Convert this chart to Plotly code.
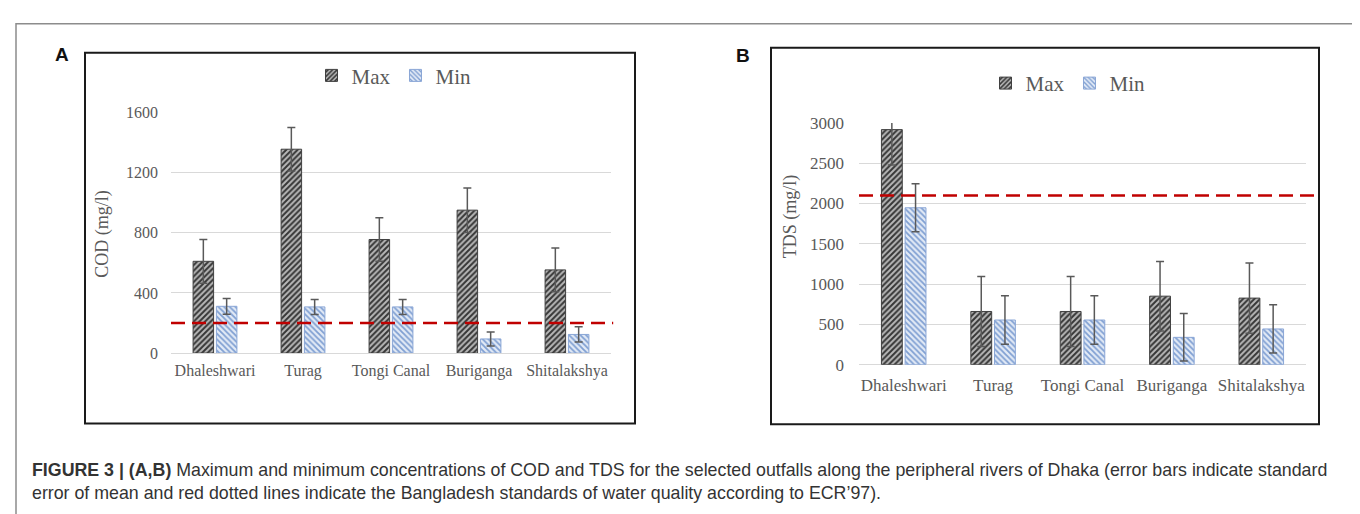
import plotly.graph_objects as go

W, H = 1360, 514

# ---------------- data ----------------
rivers = ["Dhaleshwari", "Turag", "Tongi Canal", "Buriganga", "Shitalakshya"]

cod_max = [610, 1355, 755, 950, 553]
cod_max_err = [145, 145, 145, 148, 145]
cod_min = [311, 307, 307, 94, 124]
cod_min_err = [52, 50, 50, 47, 51]
cod_standard = 200
cod_ticks = [0, 400, 800, 1200, 1600]

tds_max = [2917, 660, 660, 850, 826]
tds_max_err = [440, 435, 435, 431, 435]
tds_min = [1947, 554, 554, 339, 443]
tds_min_err = [299, 300, 300, 295, 299]
tds_standard = 2100
tds_ticks = [0, 500, 1000, 1500, 2000, 2500, 3000]

series_names = ["Max", "Min"]
caption_bold = "FIGURE 3 | (A,B)"
caption_line1 = (" Maximum and minimum concentrations of COD and TDS for the selected outfalls "
                 "along the peripheral rivers of Dhaka (error bars indicate standard")
caption_line2 = ("error of mean and red dotted lines indicate the Bangladesh standards of water "
                 "quality according to ECR\u201997).")


def px(p):
    return p / W


def py(p):
    return 1 - p / H


SERIF = "Liberation Serif, Times New Roman, serif"
SANS = "Liberation Sans, Arial, sans-serif"
TXT = "#595959"

max_marker = dict(color="#b0b0b0",
                  pattern=dict(shape="/", fgcolor="#363636", bgcolor="#b8b8b8",
                               size=4, solidity=0.5, fillmode="replace"),
                  line=dict(color="#404040", width=1))
min_marker = dict(color="#d6e2f3",
                  pattern=dict(shape="\\", fgcolor="#7f9fd2", bgcolor="#e2eaf6",
                               size=4, solidity=0.45, fillmode="replace"),
                  line=dict(color="#8aa6d6", width=1))
err_style = dict(type="data", color="#595959", thickness=1.5, width=4, visible=True)

fig = go.Figure()

# Panel A
fig.add_trace(go.Bar(x=rivers, y=cod_max, name=series_names[0], marker=max_marker,
                     error_y=dict(array=cod_max_err, **err_style),
                     xaxis="x", yaxis="y", offsetgroup="a_max", legend="legend"))
fig.add_trace(go.Bar(x=rivers, y=cod_min, name=series_names[1], marker=min_marker,
                     error_y=dict(array=cod_min_err, **err_style),
                     xaxis="x", yaxis="y", offsetgroup="a_min", legend="legend"))
# Panel B
fig.add_trace(go.Bar(x=rivers, y=tds_max, name=series_names[0], marker=max_marker,
                     error_y=dict(array=tds_max_err, **err_style),
                     xaxis="x2", yaxis="y2", offsetgroup="b_max", legend="legend2"))
fig.add_trace(go.Bar(x=rivers, y=tds_min, name=series_names[1], marker=min_marker,
                     error_y=dict(array=tds_min_err, **err_style),
                     xaxis="x2", yaxis="y2", offsetgroup="b_min", legend="legend2"))

xax_common = dict(type="category", showgrid=False, showline=False, zeroline=False,
                  ticks="", fixedrange=True)
yax_common = dict(showgrid=True, gridcolor="#d9d9d9", gridwidth=1, zeroline=True,
                  zerolinecolor="#d9d9d9", zerolinewidth=1, showline=False, ticks="",
                  fixedrange=True)

shapes = [
    # outer frame
    dict(type="rect", xref="paper", yref="paper", x0=px(8), x1=px(1356), y0=py(520), y1=py(7),
         line=dict(color="#8c8c8c", width=1.5), layer="below"),
    # panel boxes
    dict(type="rect", xref="paper", yref="paper", x0=px(77), x1=px(627), y0=py(422), y1=py(37),
         line=dict(color="#1a1a1a", width=2), layer="below"),
    dict(type="rect", xref="paper", yref="paper", x0=px(763), x1=px(1311), y0=py(423), y1=py(32),
         line=dict(color="#1a1a1a", width=2), layer="below"),
    # standards lines
    dict(type="line", xref="x domain", yref="y", x0=0, x1=1.005, y0=cod_standard, y1=cod_standard,
         line=dict(color="#c00000", width=2.5, dash="14px,7px")),
    dict(type="line", xref="x2 domain", yref="y2", x0=0, x1=1.022, y0=tds_standard, y1=tds_standard,
         line=dict(color="#c00000", width=2.5, dash="14px,7px")),
]

annotations = [
    dict(text="<b>A</b>", x=px(54), y=py(39), xref="paper", yref="paper", showarrow=False,
         font=dict(family=SANS, size=19, color="#111111"), xanchor="center", yanchor="middle"),
    dict(text="<b>B</b>", x=px(735), y=py(40), xref="paper", yref="paper", showarrow=False,
         font=dict(family=SANS, size=19, color="#111111"), xanchor="center", yanchor="middle"),
    dict(text="COD (mg/l)", x=px(95), y=py(225), xref="paper", yref="paper", showarrow=False,
         textangle=-90, font=dict(family=SERIF, size=18, color=TXT),
         xanchor="center", yanchor="middle"),
    dict(text="TDS (mg/l)", x=px(782), y=py(207), xref="paper", yref="paper", showarrow=False,
         textangle=-90, font=dict(family=SERIF, size=18, color=TXT),
         xanchor="center", yanchor="middle"),
    dict(text="<b>" + caption_bold + "</b>" + caption_line1, x=px(22), y=py(470),
         xref="paper", yref="paper", showarrow=False, xanchor="left", yanchor="middle",
         font=dict(family=SANS, size=17.8, color="#333333")),
    dict(text=caption_line2, x=px(22), y=py(494),
         xref="paper", yref="paper", showarrow=False, xanchor="left", yanchor="middle",
         font=dict(family=SANS, size=17.8, color="#333333")),
]

legend_common = dict(orientation="h", xanchor="center", yanchor="middle",
                     font=dict(family=SERIF, size=21, color=TXT),
                     bgcolor="rgba(0,0,0,0)", itemwidth=30, traceorder="normal",
                     itemclick=False, itemdoubleclick=False)

fig.update_layout(
    width=W, height=H,
    margin=dict(l=0, r=0, t=0, b=0),
    paper_bgcolor="white", plot_bgcolor="rgba(0,0,0,0)",
    barmode="group", bargap=0.47, bargroupgap=0.12,
    showlegend=True,
    legend=dict(x=px(386), y=py(61), **legend_common),
    legend2=dict(x=px(1060), y=py(69), **legend_common),
    xaxis=dict(domain=[px(163), px(603)], anchor="y",
               tickfont=dict(family=SERIF, size=16, color=TXT), ticklabelstandoff=6,
               **xax_common),
    yaxis=dict(domain=[py(349), py(99)], anchor="x", range=[0, 1600], tickvals=cod_ticks,
               tickfont=dict(family=SERIF, size=16, color=TXT), ticklabelstandoff=12,
               **yax_common),
    xaxis2=dict(domain=[px(851), px(1298)], anchor="y2",
                tickfont=dict(family=SERIF, size=17, color=TXT), ticklabelstandoff=8,
                **xax_common),
    yaxis2=dict(domain=[py(361), py(110)], anchor="x2", range=[0, 3000], tickvals=tds_ticks,
                tickfont=dict(family=SERIF, size=17, color=TXT), ticklabelstandoff=14,
                **yax_common),
    shapes=shapes,
    annotations=annotations,
)

fig.write_html("out.html", config={"displayModeBar": False, "staticPlot": False})
